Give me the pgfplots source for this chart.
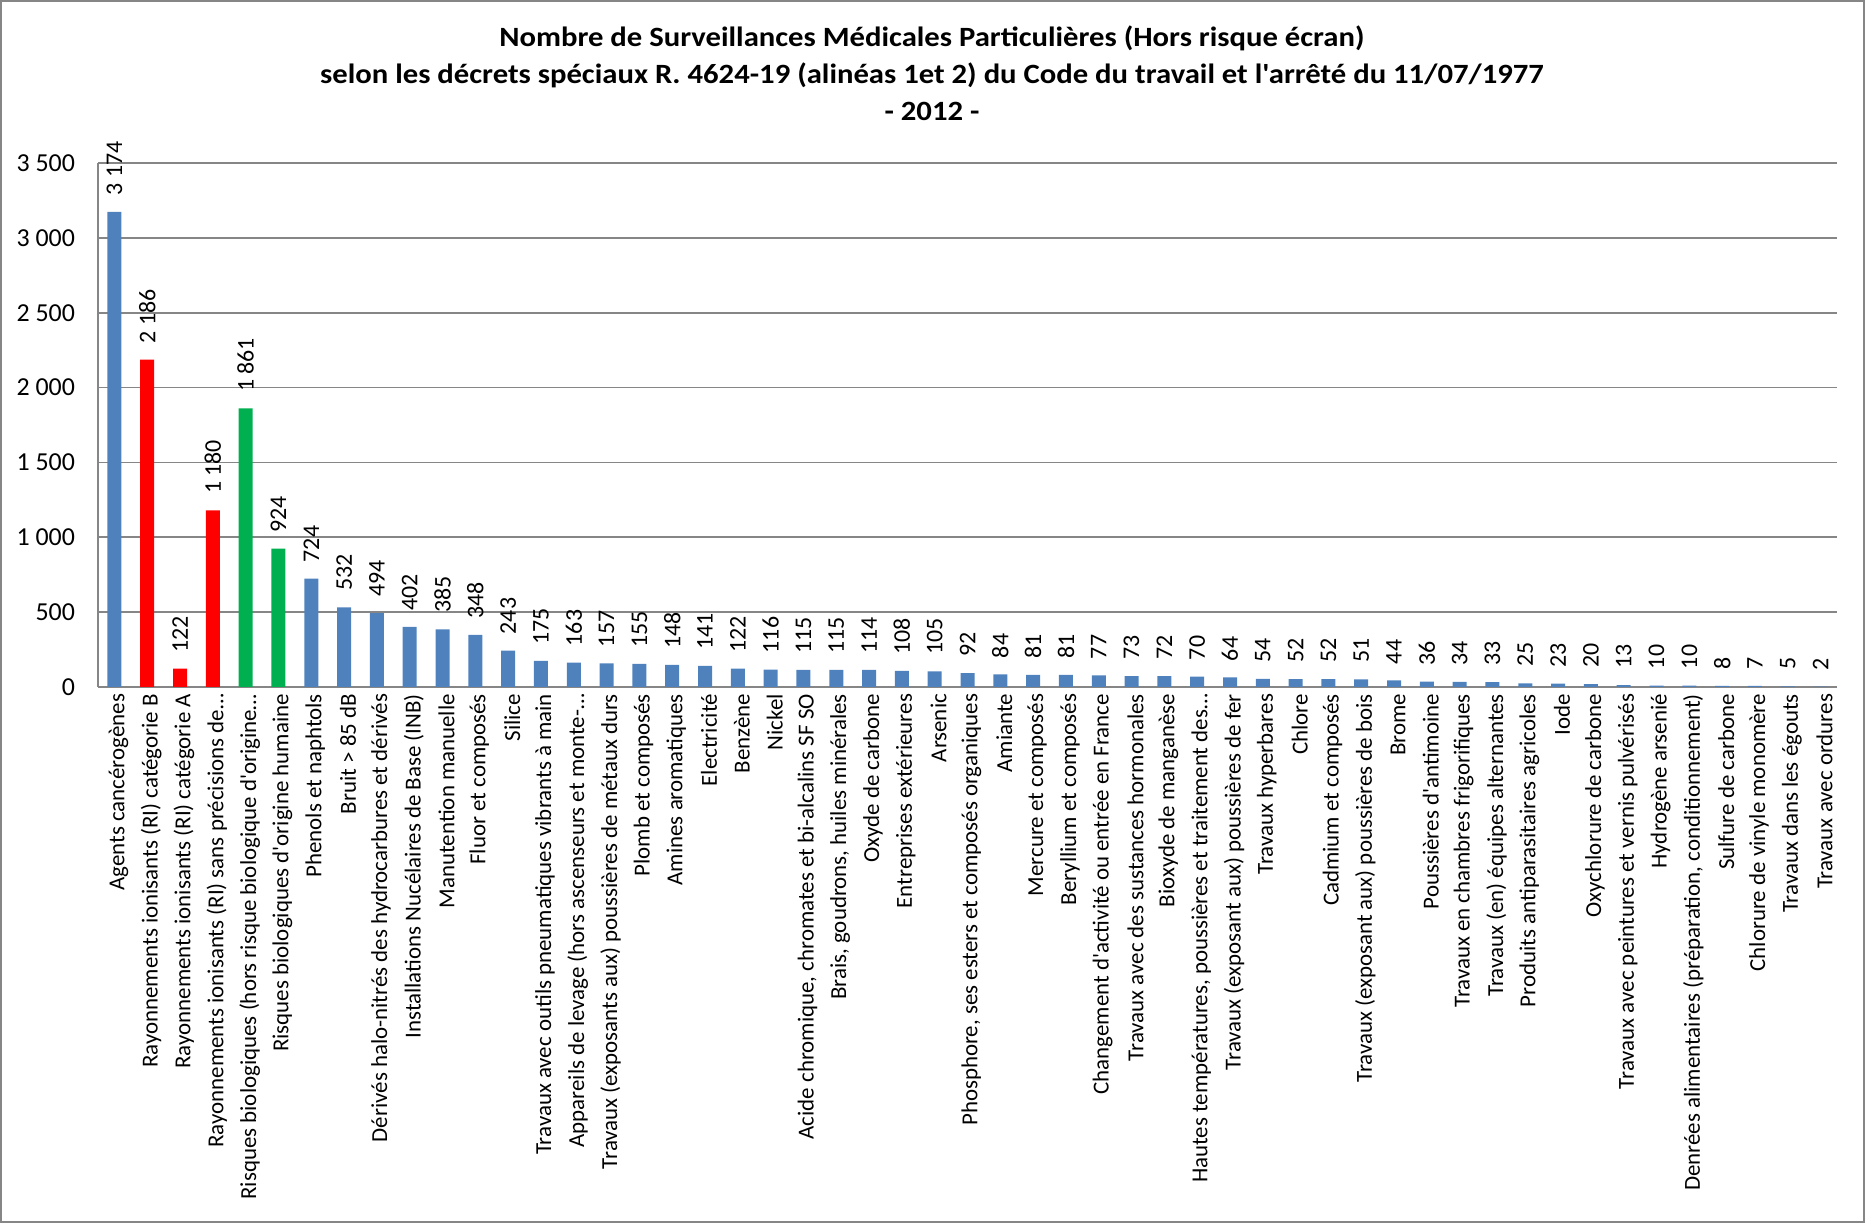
\documentclass[border=0pt]{standalone}
\usepackage{pgfplots}
\pgfplotsset{compat=1.18}
\usepackage{fontspec}
\setmainfont{Carlito}
\newfontfamily\titlefont{Carlito}[FakeStretch=1.1]
\definecolor{cblue}{HTML}{4F81BD}
\definecolor{cred}{HTML}{FF0000}
\definecolor{cgreen}{HTML}{00B050}
\definecolor{cgrid}{HTML}{868686}
\newcommand{\ap}{\textquotesingle}
\begin{document}
\begin{tikzpicture}
\useasboundingbox (0,0) rectangle (932.5bp,611.5bp);
\draw[cgrid, line width=1.2bp] (0.6bp,0.6bp) rectangle (931.9bp,610.9bp);
\begin{scope}[every node/.style={anchor=base, font=\titlefont\bfseries\fontsize{14}{16}\selectfont}]
\node at (466bp,588bp) {Nombre de Surveillances Médicales Particulières (Hors risque écran)};
\node at (466bp,569.5bp) {selon les décrets spéciaux R. 4624-19 (alinéas 1et 2) du Code du travail et l\ap arrêté du 11/07/1977};
\node at (466bp,551bp) {- 2012 -};
\end{scope}
\begin{axis}[
  at={(49bp,268bp)}, anchor=south west, scale only axis,
  width=869.5bp, height=262bp,
  xmin=-0.5, xmax=52.5, ymin=0, ymax=3500,
  ytick={0,500,...,3500},
  xtick={0,...,52},
  ymajorgrids, grid style={cgrid, line width=0.8bp},
  axis lines*=left, axis line style={-, cgrid, line width=0.8bp},
  major tick length=0pt,
  clip=false,
  /pgf/number format/assume math mode=true,
  /pgf/number format/1000 sep={\ },
  yticklabel style={font=\fontsize{13}{15}\selectfont, xshift=-8bp},
  xticklabel style={rotate=90, anchor=east, font=\fontsize{11.5}{13}\selectfont, yshift=-2bp},
  ybar, bar width=7bp,
  nodes near coords,
  every node near coord/.append style={rotate=90, anchor=west, font=\fontsize{12}{14}\selectfont, black, inner sep=8bp},
  xticklabels={
{Agents cancérogènes},
{Rayonnements ionisants (RI) catégorie B},
{Rayonnements ionisants (RI) catégorie A},
{Rayonnements ionisants (RI) sans précisions de…},
{Risques biologiques (hors risque biologique d\ap origine…},
{Risques biologiques d\ap origine humaine},
{Phenols et naphtols},
{Bruit > 85 dB},
{Dérivés halo-nitrés des hydrocarbures et dérivés},
{Installations Nucélaires de Base (INB)},
{Manutention manuelle},
{Fluor et composés},
{Silice},
{Travaux avec outils pneumatiques vibrants à main},
{Appareils de levage (hors ascenseurs et monte-…},
{Travaux (exposants aux) poussières de métaux durs},
{Plomb et composés},
{Amines aromatiques},
{Electricité},
{Benzène},
{Nickel},
{Acide chromique, chromates et bi-alcalins SF SO},
{Brais, goudrons, huiles minérales},
{Oxyde de carbone},
{Entreprises extérieures},
{Arsenic},
{Phosphore, ses esters et composés organiques},
{Amiante},
{Mercure et composés},
{Beryllium et composés},
{Changement d\ap activité ou entrée en France},
{Travaux avec des sustances hormonales},
{Bioxyde de manganèse},
{Hautes températures, poussières et traitement des…},
{Travaux (exposant aux) poussières de fer},
{Travaux hyperbares},
{Chlore},
{Cadmium et composés},
{Travaux (exposant aux) poussières de bois},
{Brome},
{Poussières d\ap antimoine},
{Travaux en chambres frigorifiques},
{Travaux (en) équipes alternantes},
{Produits antiparasitaires agricoles},
{Iode},
{Oxychlorure de carbone},
{Travaux avec peintures et vernis pulvérisés},
{Hydrogène arsenié},
{Denrées alimentaires (préparation, conditionnement)},
{Sulfure de carbone},
{Chlorure de vinyle monomère},
{Travaux dans les égouts},
{Travaux avec ordures}},
]
\addplot[fill=cblue, draw=none, bar shift=0pt] coordinates {
(0,3174) (6,724) (7,532) (8,494) (9,402) (10,385) (11,348) (12,243) (13,175)
(14,163) (15,157) (16,155) (17,148) (18,141) (19,122) (20,116) (21,115) (22,115)
(23,114) (24,108) (25,105) (26,92) (27,84) (28,81) (29,81) (30,77) (31,73) (32,72)
(33,70) (34,64) (35,54) (36,52) (37,52) (38,51) (39,44) (40,36) (41,34) (42,33)
(43,25) (44,23) (45,20) (46,13) (47,10) (48,10) (49,8) (50,7) (51,5) (52,2)};
\addplot[fill=cred, draw=none, bar shift=0pt] coordinates {(1,2186) (2,122) (3,1180)};
\addplot[fill=cgreen, draw=none, bar shift=0pt] coordinates {(4,1861) (5,924)};
\end{axis}
\end{tikzpicture}
\end{document}
